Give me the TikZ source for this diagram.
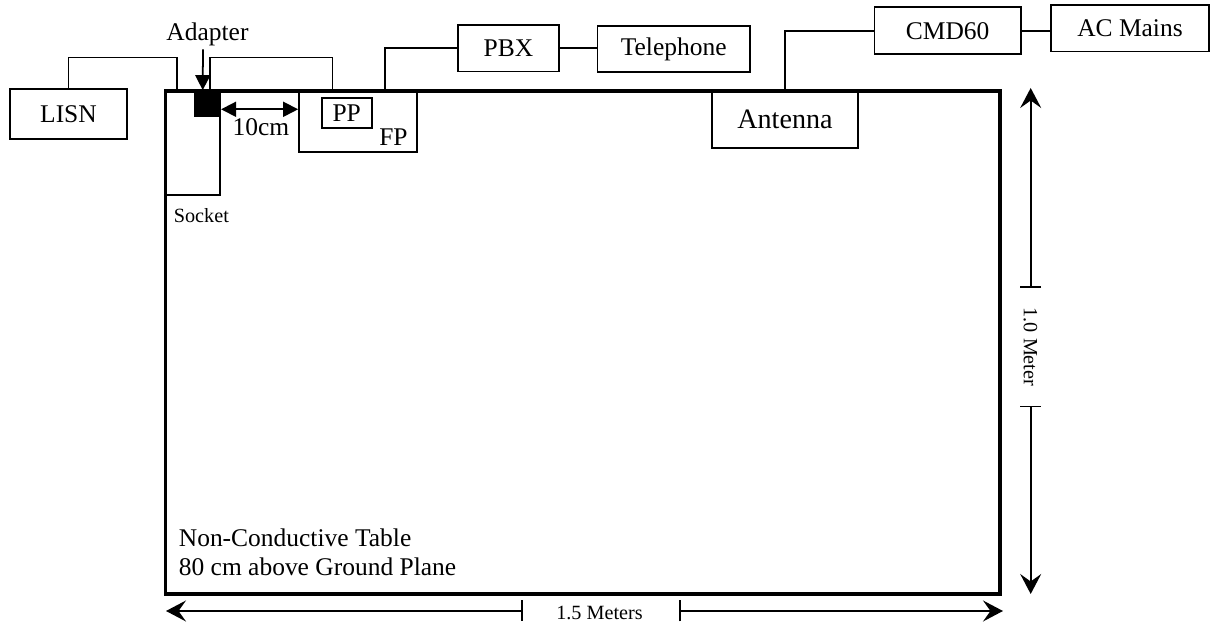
\documentclass[tikz,border=0pt]{standalone}
\usepackage{fontspec}
\setmainfont{Liberation Serif}
\usetikzlibrary{arrows.meta}

\begin{document}
\begin{tikzpicture}[x=0.02cm, y=0.02cm, line width=1pt,
		box/.style={rectangle,draw,inner sep=0pt,font=\fontsize{14.5}{16.5}\selectfont},
		lbl/.style={inner sep=0pt,font=\fontsize{14.5}{16.5}\selectfont},
		small/.style={inner sep=0pt,font=\fontsize{11.5}{13}\selectfont},
		dim/.style={{Bar[width=0.42cm]}-{Stealth[length=0.4cm,width=0.42cm,inset=0.15cm]}},
		tri/.style={>={Triangle[length=0.3cm,width=0.3cm]}}]
		\useasboundingbox (0,0) rectangle (1215,625);

		\node[draw,line width=1.8pt,inner sep=0pt,minimum width=16.7cm,minimum height=10.06cm] (table) at (582.5,282.5) {};
		\node[lbl,align=left,anchor=south west] (tablelabel) at (178,48) {Non-Conductive Table\\80 cm above Ground Plane};

		\node[box,minimum width=2.34cm,minimum height=1cm] (lisn) at (68.5,511) {LISN};
		\node[draw,inner sep=0pt,minimum width=1.1cm,minimum height=2.08cm] (socket) at (192.5,482) {};
		\node[small,anchor=west] (socketlabel) at (173,409) {Socket};
		\node[fill,inner sep=0pt,minimum size=0.52cm] (adapter) at (207.2,521) {};
		\node[lbl] (adlabel) at (207.5,590.5) {Adapter};

		\node[box,minimum width=2.36cm,minimum height=1.22cm] (fp) at (358,503.5) {};
		\node[box,minimum width=1cm,minimum height=0.61cm] (pp) at (346.7,512) {PP};
		\node[lbl] (fplabel) at (393.5,487.5) {FP};

		\node[box,minimum width=2.01cm,minimum height=0.93cm] (pbx) at (508.5,576.7) {PBX};
		\node[box,minimum width=3.05cm,minimum height=0.93cm] (tel) at (673.7,576) {Telephone};
		\node[box,font=\fontsize{16}{18}\selectfont,minimum width=2.93cm,minimum height=1.17cm] (ant) at (785,505.9) {Antenna};
		\node[box,minimum width=2.93cm,minimum height=0.94cm] (cmd) at (947.7,594.2) {CMD60};
		\node[box,minimum width=3.16cm,minimum height=0.93cm] (ac) at (1130,596.7) {AC Mains};

		\draw (lisn.north) -- ++(0,30.7) -| ([xshift=-0.316cm]socket.north);
		\draw ([xshift=0.056cm]adapter.north) -- ++(0,32.7) -| ([xshift=-0.51cm]fp.north);
		\draw ([xshift=0.54cm]fp.north) |- (pbx.west);
		\draw (pbx.east) -- (pbx.east -| tel.west);
		\draw (ant.north) |- (cmd.west);
		\draw (cmd.east) -- (cmd.east -| ac.west);

		\draw[->,tri] ([xshift=-0.09cm,yshift=-0.05cm]adlabel.south) -- ([xshift=-0.09cm]adapter.north);
		\coordinate (gap) at (260,515.7);
		\draw[<->,tri] (adapter.east |- gap) -- (fp.west |- gap);
		\node[lbl] (gaplabel) at (261,498) {10cm};

		\coordinate (vtop) at (1030.7,537);
		\coordinate (vbot) at (1030.7,31);
		\coordinate (vbar1) at (1030.7,337);
		\coordinate (vbar2) at (1030.7,219.3);
		\draw[dim] (vbar1) -- (vtop);
		\draw[dim] (vbar2) -- (vbot);
		\node[small,rotate=-90] (vlabel) at (1030.5,278) {1.0 Meter};

		\coordinate (hleft) at (166,14);
		\coordinate (hright) at (1003,14);
		\coordinate (hbar1) at (522.7,14);
		\coordinate (hbar2) at (679,14);
		\draw[dim] (hbar1) -- (hleft);
		\draw[dim] (hbar2) -- (hright);
		\node[small] (hlabel) at (599.5,12) {1.5 Meters};
\end{tikzpicture}
\end{document}
